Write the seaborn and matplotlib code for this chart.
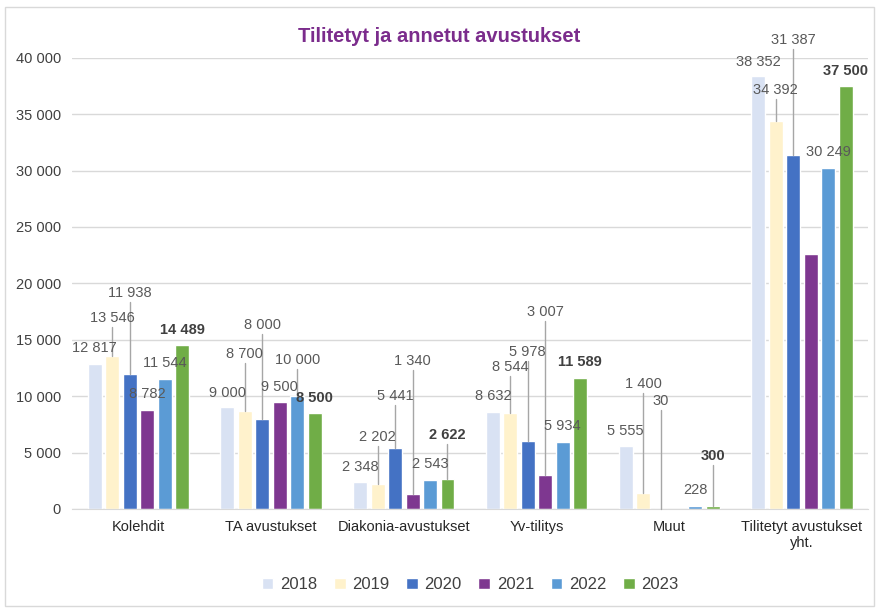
#!/usr/bin/python3
"""Tilitetyt ja annetut avustukset: grouped bars by year."""

import numpy as np
import pandas as pd
import matplotlib
matplotlib.use("Agg")
import matplotlib.pyplot as plt
from matplotlib.patches import Rectangle
import seaborn as sns

# %% Data ----
categories = ['Kolehdit', 'TA avustukset', 'Diakonia-avustukset', 'Yv-tilitys', 'Muut',
              'Tilitetyt avustukset\nyht.']
years = ['2018', '2019', '2020', '2021', '2022', '2023']

v2018 = [12817, 9000, 2348, 8632, 5555, 38352]
v2019 = [13546, 8700, 2202, 8544, 1400, 34392]
v2020 = [11938, 8000, 5441, 5978, 30, 31387]
v2021 = [8782, 9500, 1340, 3007, np.nan, 22629]
v2022 = [11544, 10000, 2543, 5934, 228, 30249]
v2023 = [14489, 8500, 2622, 11589, 300, 37500]

# %% Label placement (layout only: data-label heights and leader flags) ----
label_y = {
    '2018': [14300, 10300, 3750, 10000, 6900, 39650],
    '2019': [16950, 13750, 6400, 12600, 11100, 37150],
    '2020': [19150, 16300, 10000, 13950, 9600, 41600],
    '2021': [10200, 10800, 13100, 17450, None, 24050],
    '2022': [12950, 13200, 4000, 7350, 1700, 31650],
    '2023': [15900, 9850, 6550, 13050, 4700, 38850],
}
leader = {
    '2018': [0, 0, 0, 0, 0, 0],
    '2019': [1, 1, 1, 1, 1, 1],
    '2020': [1, 1, 1, 1, 1, 1],
    '2021': [0, 0, 1, 1, 0, 0],
    '2022': [0, 1, 0, 0, 0, 0],
    '2023': [0, 0, 1, 0, 1, 0],
}

colors = ['#D9E2F3', '#FFF2CC', '#4472C4', '#7E3790', '#5B9BD5', '#70AD47']

# %% Build table ----
series = [v2018, v2019, v2020, v2021, v2022, v2023]
df = pd.DataFrame({
    'category': categories * len(years),
    'year': np.repeat(years, len(categories)),
    'value': np.concatenate(series),
})

# %% Plot ----
sns.set_style('white')
font = ['Liberation Sans', 'DejaVu Sans']
plt.rcParams['font.family'] = font

fig = plt.figure(figsize=(8.78, 6.08), dpi=100)
ax = fig.add_axes([0.082, 0.163, 0.907, 0.742])

sns.barplot(data=df, x='category', y='value', hue='year', palette=colors,
            width=0.79, gap=0.2, ax=ax, legend=True, saturation=1)

ax.set_xlim(-0.5, len(categories) - 0.5)
ax.set_ylim(0, 40000)
ax.set_yticks(np.arange(0, 40001, 5000))
ax.set_yticklabels([f'{t:,}'.replace(',', ' ') for t in range(0, 40001, 5000)],
                   fontsize=10.5, color='#404040')
ax.set_xticklabels(categories, fontsize=10.5, color='#262626')
ax.tick_params(axis='both', length=0, pad=8)
ax.set_xlabel('')
ax.set_ylabel('')
ax.grid(axis='y', color='#D9D9D9', linewidth=1)
ax.set_axisbelow(True)
for s in ['top', 'right', 'left']:
    ax.spines[s].set_visible(False)
ax.spines['bottom'].set_color('#D9D9D9')

# data labels
for yi, (year, cont) in enumerate(zip(years, ax.containers)):
    for ci, bar in enumerate(cont.patches):
        val = series[yi][ci]
        if np.isnan(val):
            continue
        x = bar.get_x() + bar.get_width() / 2
        ly = label_y[year][ci]
        bold = year == '2023'
        ax.text(x, ly, f'{int(val):,}'.replace(',', ' '), ha='center', va='center',
                fontsize=10.5, color='#404040' if bold else '#595959',
                fontweight='bold' if bold else 'normal', clip_on=False, zorder=5)
        if leader[year][ci]:
            ax.plot([x, x], [ly - 800, bar.get_height()], color='#A6A6A6',
                    linewidth=1, clip_on=False, zorder=4)

fig.text(0.5, 0.94, 'Tilitetyt ja annetut avustukset', ha='center', va='center',
         fontsize=14.5, color='#7B2C8C', fontweight='bold', family=font)

ax.legend(loc='center', bbox_to_anchor=(0.5, -0.168), ncol=6, frameon=False,
          fontsize=12, handlelength=0.7, handleheight=0.7, columnspacing=1.0,
          handletextpad=0.4, labelcolor='#404040')

fig.patches.append(Rectangle((0.006, 0.003), 0.99, 0.985, transform=fig.transFigure,
                             fill=False, edgecolor='#D9D9D9', linewidth=1))

fig.savefig('out.png', dpi=100)
